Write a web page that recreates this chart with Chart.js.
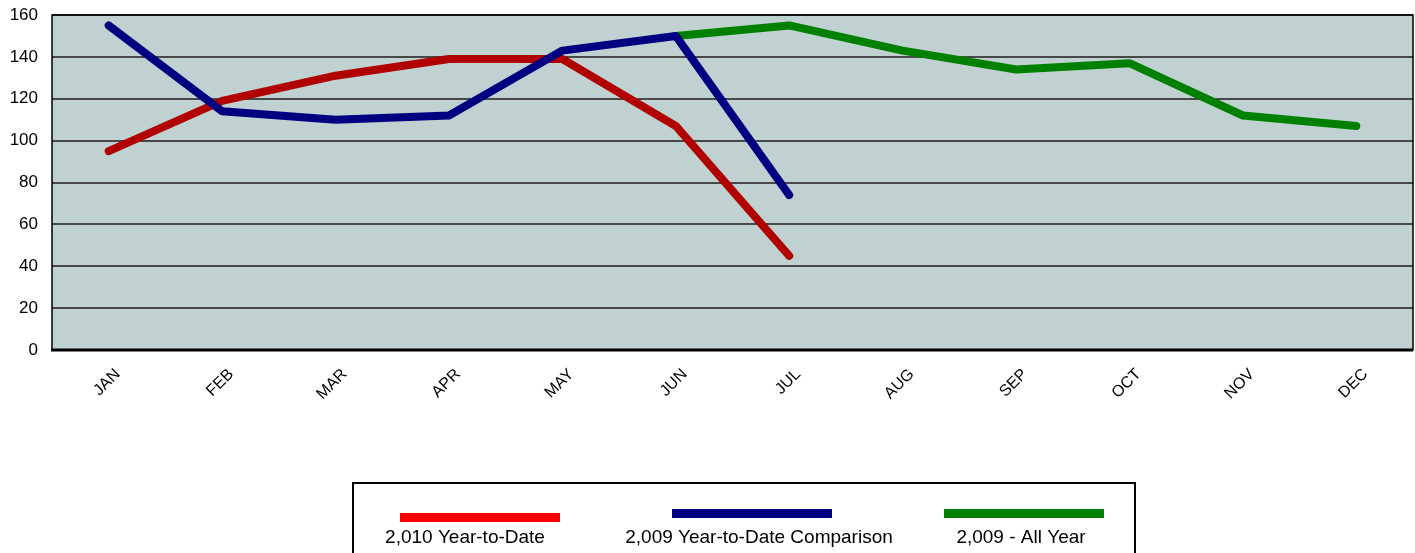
<!DOCTYPE html>
<html>
<head>
<meta charset="utf-8">
<script src="https://cdn.jsdelivr.net/npm/chart.js@4"></script>
<style>
  html, body { margin: 0; padding: 0; background: #fff; }
  #wrap { width: 1415px; height: 553px; }
</style>
</head>
<body>
<div id="wrap"><canvas id="myChart" width="1415" height="553"></canvas></div>
<script>
/************** Monthly comparison chart ******/
var months = ["JAN", "FEB", "MAR", "APR", "MAY", "JUN", "JUL", "AUG", "SEP", "OCT", "NOV", "DEC"];
var ytd2010 = [95, 119, 131, 139, 139, 107, 45, null, null, null, null, null];
var ytd2009 = [155, 114, 110, 112, 143, 150, 74, null, null, null, null, null];
var all2009 = [null, null, null, null, null, 150, 155, 143, 134, 137, 112, 107];
var seriesNames = ["2,010 Year-to-Date", "2,009 Year-to-Date Comparison", "2,009 - All Year"];
var lineColors = ["#b00000", "#000080", "#008000"];
var legendColors = ["#ff0000", "#000080", "#008000"];

var FONT = "'Liberation Sans', Arial, sans-serif";

// plot background + border, and the boxed legend at the bottom
var decor = {
  id: "decor",
  beforeDraw: function(chart) {
    var ctx = chart.ctx, a = chart.chartArea;
    ctx.save();
    ctx.fillStyle = "#bfd1d0";
    ctx.fillRect(a.left, a.top, a.right - a.left, a.bottom - a.top);
    ctx.restore();
  },
  afterDatasetsDraw: function(chart) {
    var ctx = chart.ctx, a = chart.chartArea;
    ctx.save();
    ctx.strokeStyle = "#000";
    ctx.lineWidth = 1.5;
    ctx.strokeRect(a.left, a.top, a.right - a.left, a.bottom - a.top);
    ctx.lineWidth = 3;
    ctx.beginPath();
    ctx.moveTo(a.left - 1, a.bottom);
    ctx.lineTo(a.right, a.bottom);
    ctx.stroke();
    ctx.restore();
  },
  afterDraw: function(chart) {
    var ctx = chart.ctx;
    ctx.save();
    ctx.strokeStyle = "#000";
    ctx.lineWidth = 2;
    ctx.strokeRect(353, 483, 782, 90);
    var centers = [480, 752, 1024];
    var textX = [465, 759, 1021];
    ctx.font = "19px " + FONT;
    ctx.textAlign = "center";
    ctx.textBaseline = "middle";
    for (var i = 0; i < seriesNames.length; i++) {
      ctx.fillStyle = legendColors[i];
      ctx.fillRect(centers[i] - 80, i === 0 ? 513 : 509, 160, 9);
      ctx.fillStyle = "#000";
      ctx.fillText(seriesNames[i], textX[i], 538);
    }
    ctx.restore();
  }
};

function ds(i, data, order) {
  return {
    label: seriesNames[i],
    data: data,
    borderColor: lineColors[i],
    backgroundColor: lineColors[i],
    borderWidth: 8,
    borderCapStyle: "round",
    borderJoinStyle: "round",
    pointRadius: 0,
    pointHoverRadius: 0,
    tension: 0,
    fill: false,
    order: order
  };
}

new Chart("myChart", {
  type: "line",
  data: {
    labels: months,
    datasets: [ds(0, ytd2010, 1), ds(1, ytd2009, 0), ds(2, all2009, 2)]
  },
  plugins: [decor],
  options: {
    responsive: false,
    animation: false,
    layout: { padding: { top: 15, right: 2, left: 0, bottom: 0 } },
    plugins: {
      legend: { display: false },
      tooltip: { enabled: false }
    },
    scales: {
      x: {
        offset: true,
        grid: { display: false, drawTicks: false },
        border: { display: false },
        ticks: {
          color: "#000",
          font: { family: FONT, size: 16 },
          maxRotation: 45,
          minRotation: 45,
          padding: 15,
          labelOffset: 9,
          autoSkip: false
        },
        afterFit: function(s) {
          s.height = 203;
          s.paddingLeft = 0;
          s.paddingRight = 0;
        }
      },
      y: {
        min: 0,
        max: 160,
        grid: { color: "#484848", lineWidth: 2, drawTicks: false },
        border: { display: false },
        ticks: {
          stepSize: 20,
          color: "#000",
          font: { family: FONT, size: 17 },
          padding: 14
        },
        afterFit: function(s) {
          s.width = 52;
          s.paddingTop = 0;
          s.paddingBottom = 0;
        }
      }
    }
  }
});
</script>
</body>
</html>
